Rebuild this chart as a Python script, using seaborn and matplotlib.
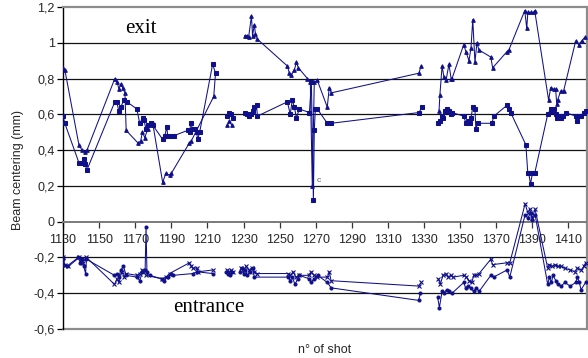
import numpy as np
import pandas as pd
import matplotlib
matplotlib.use("Agg")
import matplotlib.pyplot as plt
import seaborn as sns

nan = np.nan

# ---------------- data (NaN separates line segments) ----------------
exit_a_shot = [1130, 1131, 1138.8, 1140.5, 1142, 1143.3, 1158.7, 1160, 1161, 1162, 1163, 1164.3, 1165,
               1171.5, 1173, 1174, 1175.3, 1177, 1178.6, 1179.7, 1185.2, 1187, 1189, 1190, 1200, 1201,
               1213.5, 1214.5, nan,
               1221, 1222, 1223.5, nan,
               1230.6, 1231.7, 1232.8, 1234.4, 1235, 1236, 1236.6, 1237.7, 1254.3, 1255.4, 1256.5, 1258.2,
               1259.3, 1260.4, 1265.4, 1267, 1268.1, 1269.2, 1270.9, 1276.4, 1277.5, 1278.6, 1327.2, 1328.3, nan,
               1338.3, 1338.8, 1340, 1341, 1342.2, 1343.8, 1345, 1345.5, 1352, 1353.2, 1354.9, 1356, 1357,
               1358.2, 1359.3, 1360.4, 1367, 1368, 1375.9, 1377, 1385.8, 1386.9, 1387.5, 1389.1, 1390.8,
               1391.3, 1399, 1400.2, 1401.8, 1402.9, 1403.5, 1404, 1405.7, 1407.3, 1414, 1415.6, 1417.3, 1419]
exit_a_val = [0.86, 0.85, 0.43, 0.40, 0.39, 0.40, 0.80, 0.78, 0.74, 0.77, 0.75, 0.72, 0.51,
              0.44, 0.45, 0.50, 0.47, 0.52, 0.55, 0.55, 0.22, 0.27, 0.26, 0.27, 0.44, 0.45,
              0.70, 0.83, nan,
              0.54, 0.56, 0.54, nan,
              1.04, 1.04, 1.03, 1.15, 1.04, 1.10, 1.05, 1.02, 0.87, 0.83, 0.82, 0.85,
              0.89, 0.86, 0.80, 0.78, 0.20, 0.78, 0.79, 0.64, 0.75, 0.72, 0.83, 0.87, nan,
              0.62, 0.71, 0.87, 0.81, 0.79, 0.88, 0.80, 0.80, 0.99, 0.95, 0.90, 0.97, 1.13,
              0.89, 1.00, 0.96, 0.92, 0.86, 0.95, 0.96, 1.18, 1.08, 1.17, 1.17, 1.17,
              1.18, 0.68, 0.75, 0.74, 0.74, 0.66, 0.68, 0.73, 0.73, 1.01, 0.99, 1.01, 1.03]

exit_b_shot = [1130, 1131, 1138.8, 1140.5, 1141.6, 1142.2, 1143.3, 1158.7, 1159.8, 1160.9, 1162, 1163.7,
               1165.4, 1170.9, 1172.5, 1174.2, 1174.8, 1175.9, 1177, 1178.6, 1179.7, 1185.2, 1186.4, 1187.5,
               1188, 1190.2, 1191.3, 1199, 1200.2, 1200.7, 1201.8, 1202.9, 1204, 1204.6, 1205.7, 1212.9,
               1214.5, nan,
               1221, 1222, 1223, 1224, nan,
               1230.6, 1231.7, 1232.8, 1234, 1235, 1236, 1237.2, 1237.7, 1254.3, 1255.9, 1257, 1258.2,
               1259.3, 1260.9, 1266.5, 1267.6, 1268.7, 1269.2, 1269.8, 1270.9, 1276.4, 1278.6, 1327.2,
               1328.9, nan,
               1337.7, 1338.8, 1340, 1340.5, 1341.6, 1342.7, 1343.8, 1345, 1345.5, 1352, 1353.2, 1354.3,
               1355.4, 1356, 1357, 1358.2, 1358.7, 1359.8, 1367.6, 1368.7, 1375.9, 1377, 1378, 1386.4,
               1387.5, 1388, 1389, 1390, 1391.3, 1398.5, 1400.2, 1400.7, 1401.8, 1402.9, 1403.5, 1404.6,
               1405.7, 1406.8, 1408.5, 1414, 1414.6, 1415.6, 1416.7, 1418.4, 1419.5]
exit_b_val = [0.59, 0.55, 0.33, 0.33, 0.35, 0.32, 0.29, 0.67, 0.67, 0.62, 0.64, 0.68,
              0.67, 0.63, 0.55, 0.58, 0.57, 0.52, 0.54, 0.55, 0.54, 0.46, 0.48, 0.53,
              0.48, 0.48, 0.48, 0.51, 0.50, 0.55, 0.52, 0.52, 0.50, 0.46, 0.50, 0.88,
              0.83, nan,
              0.59, 0.61, 0.60, 0.58, nan,
              0.61, 0.60, 0.59, 0.60, 0.62, 0.64, 0.65, 0.59, 0.67, 0.60, 0.68, 0.64,
              0.58, 0.63, 0.61, 0.78, 0.12, 0.51, 0.63, 0.63, 0.55, 0.55, 0.61,
              0.64, nan,
              0.55, 0.56, 0.59, 0.58, 0.62, 0.63, 0.62, 0.60, 0.61, 0.59, 0.55, 0.56,
              0.55, 0.58, 0.64, 0.63, 0.52, 0.55, 0.55, 0.59, 0.65, 0.63, 0.61, 0.43,
              0.27, 0.27, 0.21, 0.27, 0.27, 0.60, 0.63, 0.62, 0.63, 0.60, 0.58, 0.59,
              0.58, 0.59, 0.61, 0.59, 0.56, 0.59, 0.59, 0.61, 0.62]

entr_a_shot = [1130, 1130.5, 1132, 1138.5, 1139.5, 1140.5, 1141.5, 1142.5, 1143, 1158.5, 1160, 1161, 1162,
               1163.5, 1165, 1171, 1172.5, 1174, 1175.5, 1176, 1176.5, 1178, 1185, 1186, 1188, 1190, 1191,
               1202, 1204, 1213, nan,
               1220.5, 1221.5, 1222.5, 1223.5, nan,
               1228, 1229, 1230, 1231, 1232, 1233.5, 1235, 1236, 1254.5, 1256, 1257, 1258.5, 1260, 1261,
               1266.5, 1267.5, 1269, 1271, 1276.5, 1278.5, 1327, 1328, nan,
               1337.5, 1338.5, 1340, 1341, 1342.5, 1344, 1345.5, 1352, 1353, 1354.5, 1356, 1357.5, 1359,
               1360.5, 1367, 1368.5, 1376, 1377.5, 1386, 1387.5, 1389, 1390, 1391.5, 1398.5, 1399.5,
               1400.5, 1401.5, 1403, 1404, 1406, 1408, 1411, 1414, 1415, 1416, 1417, 1419.5]
entr_a_val = [-0.21, -0.24, -0.25, -0.20, -0.23, -0.21, -0.25, -0.29, -0.21, -0.30, -0.29, -0.31, -0.27,
              -0.25, -0.30, -0.31, -0.33, -0.28, -0.27, -0.03, -0.28, -0.30, -0.32, -0.33, -0.31, -0.29, -0.30,
              -0.29, -0.28, -0.29, nan,
              -0.28, -0.29, -0.30, -0.28, nan,
              -0.28, -0.26, -0.29, -0.27, -0.30, -0.28, -0.26, -0.31, -0.31, -0.33, -0.31, -0.35, -0.32, -0.30,
              -0.32, -0.34, -0.32, -0.30, -0.34, -0.37, -0.44, -0.40, nan,
              -0.42, -0.48, -0.39, -0.40, -0.38, -0.39, -0.40, -0.34, -0.37, -0.36, -0.37, -0.39, -0.37,
              -0.39, -0.30, -0.31, -0.27, -0.31, 0.04, 0.02, 0.05, 0.01, 0.04, -0.35, -0.31,
              -0.34, -0.30, -0.33, -0.35, -0.36, -0.34, -0.36, -0.34, -0.31, -0.34, -0.38, -0.34]

entr_b_shot = [1130, 1131, 1133, 1139, 1140, 1141, 1143, 1158.5, 1160, 1161, 1162.5, 1164, 1165, 1171,
               1172.5, 1174, 1176, 1185, 1187, 1189, 1200, 1201, 1202, 1204, 1205, 1213, nan,
               1221, 1222, 1223, 1224, nan,
               1228.5, 1230, 1231.5, 1233, 1234.5, 1236, 1237.5, 1254.5, 1256, 1257.5, 1259, 1261, 1266,
               1267.5, 1269, 1270.5, 1276.5, 1277.5, 1278.5, 1327, 1328.5, nan,
               1338, 1339, 1340.5, 1342, 1343.5, 1345, 1346, 1352, 1353.5, 1355, 1356.5, 1357.5, 1359,
               1360.5, 1367, 1368, 1376, 1377.5, 1386, 1387.5, 1388.5, 1390, 1391.5, 1398.5, 1399.5,
               1401, 1402.5, 1404, 1406, 1408, 1411, 1413.5, 1415, 1417, 1418.5, 1419.5]
entr_b_val = [-0.20, -0.24, -0.25, -0.20, -0.22, -0.23, -0.20, -0.35, -0.32, -0.34, -0.28, -0.31, -0.29, -0.30,
              -0.29, -0.27, -0.30, -0.32, -0.31, -0.29, -0.23, -0.25, -0.26, -0.26, -0.28, -0.27, nan,
              -0.27, -0.28, -0.27, -0.28, nan,
              -0.26, -0.27, -0.25, -0.27, -0.26, -0.28, -0.29, -0.29, -0.30, -0.28, -0.31, -0.30, -0.30,
              -0.28, -0.30, -0.31, -0.31, -0.28, -0.33, -0.36, -0.34, nan,
              -0.32, -0.35, -0.30, -0.29, -0.31, -0.30, -0.31, -0.30, -0.31, -0.33, -0.34, -0.30, -0.30,
              -0.29, -0.21, -0.24, -0.23, -0.23, 0.10, 0.05, 0.07, 0.02, 0.07, -0.26, -0.24,
              -0.25, -0.24, -0.25, -0.25, -0.26, -0.27, -0.28, -0.26, -0.27, -0.25, -0.23]

x_ticks = [1130, 1150, 1170, 1190, 1210, 1230, 1250, 1270, 1290, 1310, 1330, 1350, 1370, 1390, 1410]
y_ticks = [-0.6, -0.4, -0.2, 0, 0.2, 0.4, 0.6, 0.8, 1.0, 1.2]
y_tick_labels = ["-0,6", "-0,4", "-0,2", "0", "0,2", "0,4", "0,6", "0,8", "1", "1,2"]

# ---------------- figure ----------------
sns.set_theme(style="white")
plt.rcParams["font.family"] = ["Liberation Sans", "DejaVu Sans"]

W, H = 588, 358
fig = plt.figure(figsize=(W / 100, H / 100), dpi=100)
ax = fig.add_axes([63 / W, 1 - 329 / H, (586.5 - 63) / W, (329 - 7) / H])

navy = "#10108a"

def to_df(shots, vals):
    s = np.array(shots, dtype=float)
    v = np.array(vals, dtype=float)
    seg = np.cumsum(np.isnan(v))
    df = pd.DataFrame({"shot": s, "val": v, "seg": seg})
    return df.dropna()

series = [
    (exit_a_shot, exit_a_val, dict(marker="^", markersize=2.6)),
    (exit_b_shot, exit_b_val, dict(marker="s", markersize=2.2)),
    (entr_a_shot, entr_a_val, dict(marker="o", markersize=2.2)),
    (entr_b_shot, entr_b_val, dict(marker="x", markersize=2.6, markeredgewidth=0.8)),
]
for shots, vals, mk in series:
    df = to_df(shots, vals)
    sns.lineplot(data=df, x="shot", y="val", units="seg", estimator=None, sort=False,
                 color=navy, linewidth=0.75, markeredgecolor=navy, markerfacecolor=navy,
                 ax=ax, legend=False, zorder=3, **mk)

ax.set_xlim(1130, 1420)
ax.set_ylim(-0.6, 1.2)

# grid lines
for yv in y_ticks[1:-1]:
    if yv != 0:
        ax.axhline(yv, color="#111111", lw=0.9, zorder=1)

# spines / frame
ax.spines["bottom"].set_position(("data", 0))
ax.spines["bottom"].set_color("#7a7a7a")
ax.spines["bottom"].set_linewidth(1.4)
ax.spines["left"].set_color("black")
ax.spines["left"].set_linewidth(1.0)
for s in ("top", "right"):
    ax.spines[s].set_color("#8c8c8c")
    ax.spines[s].set_linewidth(1.6)
ax.axhline(-0.6, color="#8c8c8c", lw=1.6, zorder=2, clip_on=False)

ax.set_xticks(x_ticks)
ax.set_xticklabels([str(t) for t in x_ticks])
ax.set_yticks(y_ticks)
ax.set_yticklabels(y_tick_labels)
ax.tick_params(axis="x", direction="out", length=4, width=0.9, color="#333333",
               labelsize=9, pad=5, bottom=True)
ax.tick_params(axis="y", direction="out", length=4, width=0.9, color="black",
               labelsize=9, pad=2, left=True)
ax.set_xlabel("")
ax.set_ylabel("")

# annotations
ax.text(1173, 1.055, "exit", family=["Liberation Serif", "DejaVu Serif"], fontsize=15,
        ha="center", va="baseline", color="black")
ax.text(1211, -0.503, "entrance", family=["Liberation Serif", "DejaVu Serif"], fontsize=15,
        ha="center", va="baseline", color="black")
ax.text(1271.5, 0.23, "c", fontsize=6, color="#555555", ha="center", va="center")

fig.text(325 / W, 1 - 350 / H, "n° of shot", ha="center", va="center", fontsize=9)
fig.text(18 / W, 1 - 170 / H, "Beam centering (mm)", ha="center", va="center",
         rotation=90, fontsize=9)

fig.savefig("out.png", dpi=100)
